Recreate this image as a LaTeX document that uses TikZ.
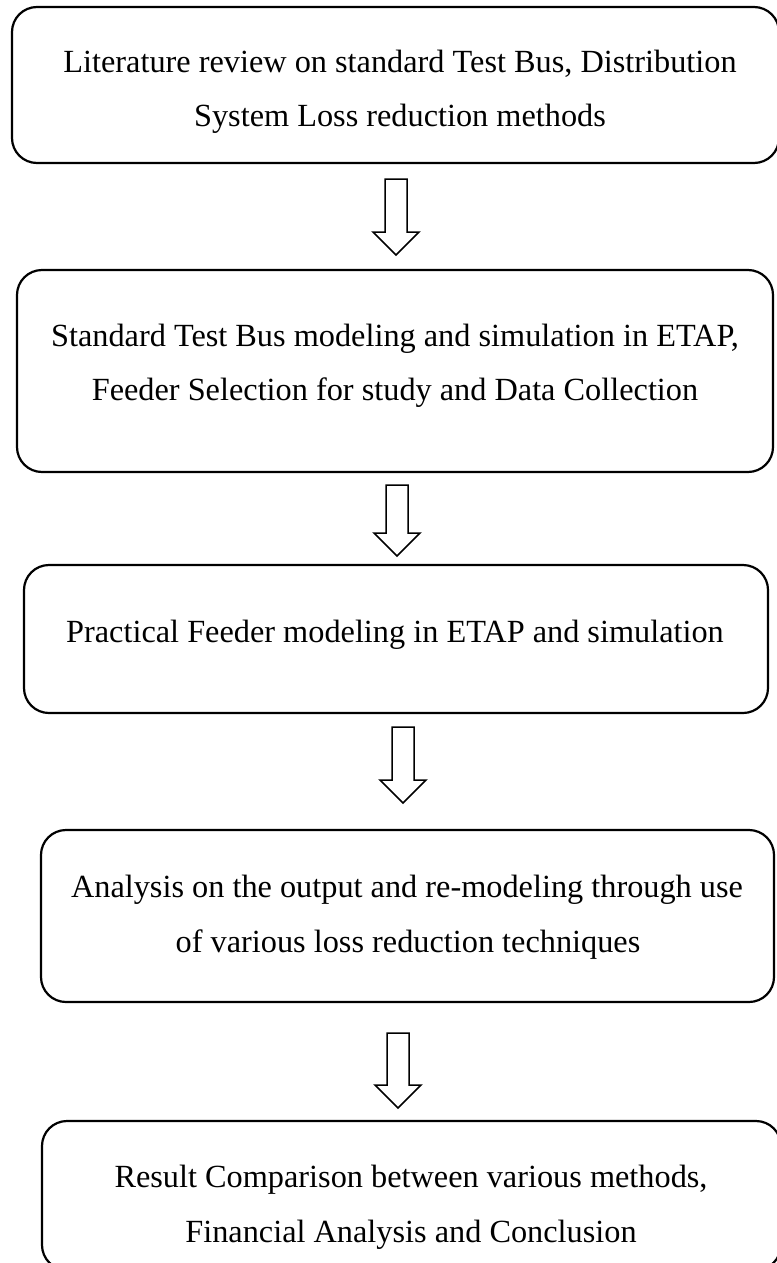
\documentclass[tikz,border=0pt]{standalone}
\usepackage{fontspec}
\setmainfont{Liberation Serif}
\begin{document}
\begin{tikzpicture}[x=1pt,y=-1pt,
  box/.style={draw, line width=2.2pt, rounded corners=25pt, inner sep=0pt},
  txt/.style={anchor=base, inner sep=0pt, font=\fontsize{32.3}{38}\selectfont},
  hollow/.style={draw, line width=1.5pt, fill=white, line join=miter},
  pics/blockarrow/.style={code={
    \draw[hollow] (-11,0) -- (11,0) -- (11,#1-23) -- (23,#1-23) -- (0,#1)
      -- (-23,#1-23) -- (-11,#1-23) -- cycle;}}]
\useasboundingbox (0,0) rectangle (776,1263);

\node[box, minimum width=767pt, minimum height=156pt] (b1) at (395.5,85) {};
\node[box, minimum width=756pt, minimum height=202pt] (b2) at (395,371) {};
\node[box, minimum width=744pt, minimum height=148pt] (b3) at (396,639) {};
\node[box, minimum width=733pt, minimum height=172pt] (b4) at (407.5,916) {};
\node[box, minimum width=739pt, minimum height=149pt] (b5) at (411.5,1195.5) {};

\node[txt] (t11) at (400,72) {Literature review on standard Test Bus, Distribution};
\node[txt] (t12) at (400,126) {System Loss reduction methods};
\node[txt] (t21) at (395,346) {Standard Test Bus modeling and simulation in ETAP,};
\node[txt] (t22) at (395,400) {Feeder Selection for study and Data Collection};
\node[txt] (t31) at (395,642) {Practical Feeder modeling in ETAP and simulation};
\node[txt] (t41) at (407,897) {Analysis on the output and re-modeling through use};
\node[txt] (t42) at (408,952) {of various loss reduction techniques};
\node[txt] (t51) at (411,1187) {Result Comparison between various methods,};
\node[txt] (t52) at (411,1242) {Financial Analysis and Conclusion};

\pic (a1) at (396,179) {blockarrow=76};
\pic (a2) at (397,485) {blockarrow=71};
\pic (a3) at (403,727) {blockarrow=76};
\pic (a4) at (398,1033) {blockarrow=75};
\end{tikzpicture}
\end{document}
